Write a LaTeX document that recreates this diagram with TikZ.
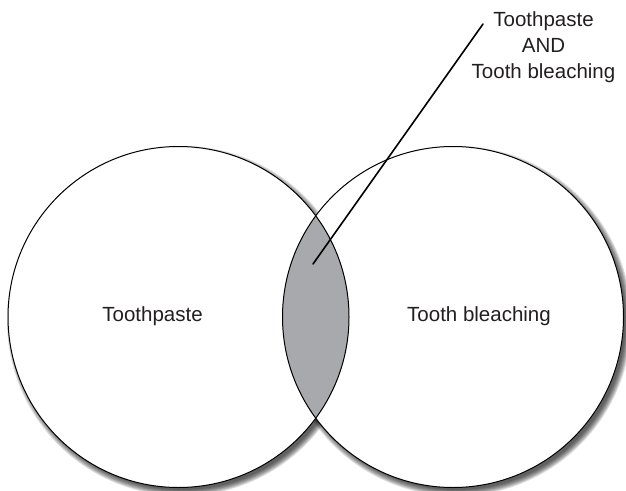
\documentclass[tikz,border=0pt]{standalone}
\usepackage{fontspec}
\setmainfont{Liberation Sans}
\definecolor{lensgray}{HTML}{A7A9AC}
\definecolor{txt}{HTML}{231F20}
\begin{document}
\begin{tikzpicture}[x=1pt,y=-1pt,
  setcircle/.style={circle, minimum size=341pt, inner sep=0pt},
  lbl/.style={font=\fontsize{20.5}{26}\selectfont, text=txt, align=center, inner sep=0pt},
  shade/.style={fill=black, fill opacity=0.13}]
\useasboundingbox (0,0) rectangle (626,490);
% shadows
\foreach \r in {175,174,173,172,171,170,169} {
  \fill[shade] (182,321) circle (\r);
  \fill[shade] (456.5,321) circle (\r);
}
\node[setcircle, fill=white] (L) at (178.5,317) {};
\node[setcircle, fill=white] (R) at (453,317) {};
\begin{scope}
  \clip (L.center) circle (170.5);
  \fill[lensgray] (R.center) circle (170.5);
\end{scope}
\draw[line width=1pt] (L.center) circle (170.5);
\draw[line width=1pt] (R.center) circle (170.5);
\node[lbl] (tp) at (152.5,316) {Toothpaste};
\node[lbl] (tb) at (479,316) {Tooth bleaching};
\node[lbl, anchor=north] (both) at (543.5,11.5) {Toothpaste\\AND\\Tooth bleaching};
\coordinate (tip) at (313,264);
\coordinate (top) at (483,24);
\draw[line width=1.6pt, line cap=round] (tip) -- (top);
\end{tikzpicture}
\end{document}
